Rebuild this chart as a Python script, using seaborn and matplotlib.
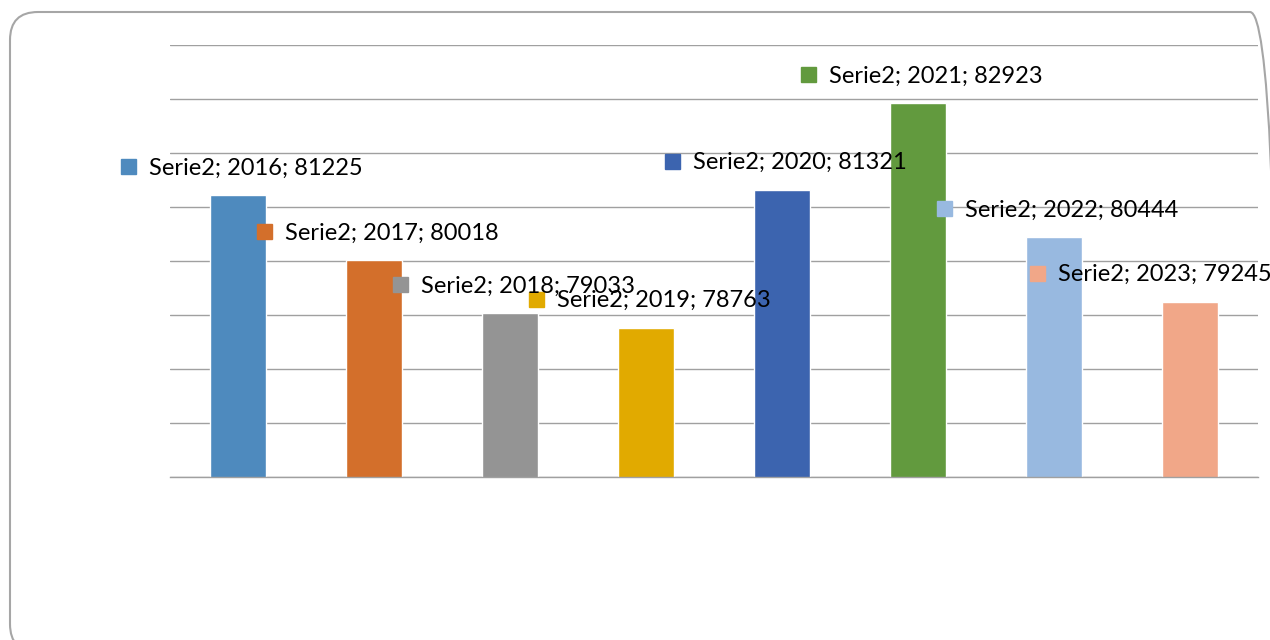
import numpy as np
import pandas as pd
import matplotlib
matplotlib.use('Agg')
import matplotlib.pyplot as plt
import matplotlib.transforms as mtransforms
from matplotlib.patches import FancyBboxPatch
import seaborn as sns

# data
years = ['2016', '2017', '2018', '2019', '2020', '2021', '2022', '2023']
values = [81225, 80018, 79033, 78763, 81321, 82923, 80444, 79245]
series_name = 'Serie2'
colors = ['#4E8ABE', '#D36F2B', '#949494', '#E1AA00', '#3C64AF', '#629A3E', '#98B9E0', '#F1A788']

y_min, y_max, y_step = 76000, 84000, 1000

sns.set_theme(style='white')
plt.rcParams['font.family'] = ['Lato', 'DejaVu Sans']

df = pd.DataFrame({'year': years, 'value': values})

fig = plt.figure(figsize=(12.7, 6.4), dpi=100)
ax = fig.add_axes([170 / 1270, 1 - 477 / 640, 1088 / 1270, 432 / 640])

# rounded frame around the chart (pixel units), runs off the right and bottom edge
frame = FancyBboxPatch((10, -12), 1268, 640,
                       boxstyle='round,pad=0,rounding_size=28',
                       transform=mtransforms.IdentityTransform(), fill=False,
                       edgecolor='#A6A6A6', linewidth=1.5)
fig.patches.append(frame)

sns.barplot(data=df, x='year', y='value', hue='year', palette=colors,
            width=0.41, legend=False, ax=ax, saturation=1)

ax.set_ylim(y_min, y_max)
ax.set_xlim(-0.5, len(years) - 0.5)
ax.set_yticks(np.arange(y_min, y_max + 1, y_step))
ax.yaxis.grid(True, color='#A0A0A0', linewidth=1)
ax.set_axisbelow(True)
ax.tick_params(left=False, bottom=False, labelleft=False, labelbottom=False)
ax.set_xlabel('')
ax.set_ylabel('')
for s in ['top', 'right', 'left']:
    ax.spines[s].set_visible(False)
ax.spines['bottom'].set_color('#A0A0A0')
ax.spines['bottom'].set_linewidth(1)

# data labels: key square + text, offset from bar top
label_shift = [0, 0, 0, 0, 0, 0, 0, -43]
for i, (yr, v) in enumerate(zip(years, values)):
    tr_sq = mtransforms.offset_copy(ax.transData, fig=fig, x=-110 + label_shift[i], y=29, units='dots')
    ax.plot(i, v, marker='s', ms=10.8, color=colors[i], transform=tr_sq, clip_on=False)
    tr_tx = mtransforms.offset_copy(ax.transData, fig=fig, x=-89 + label_shift[i], y=27, units='dots')
    ax.text(i, v, f'{series_name}; {yr}; {v}', transform=tr_tx, ha='left', va='center',
            fontsize=17, color='black', clip_on=False)

plt.savefig('out.png', dpi=100)
